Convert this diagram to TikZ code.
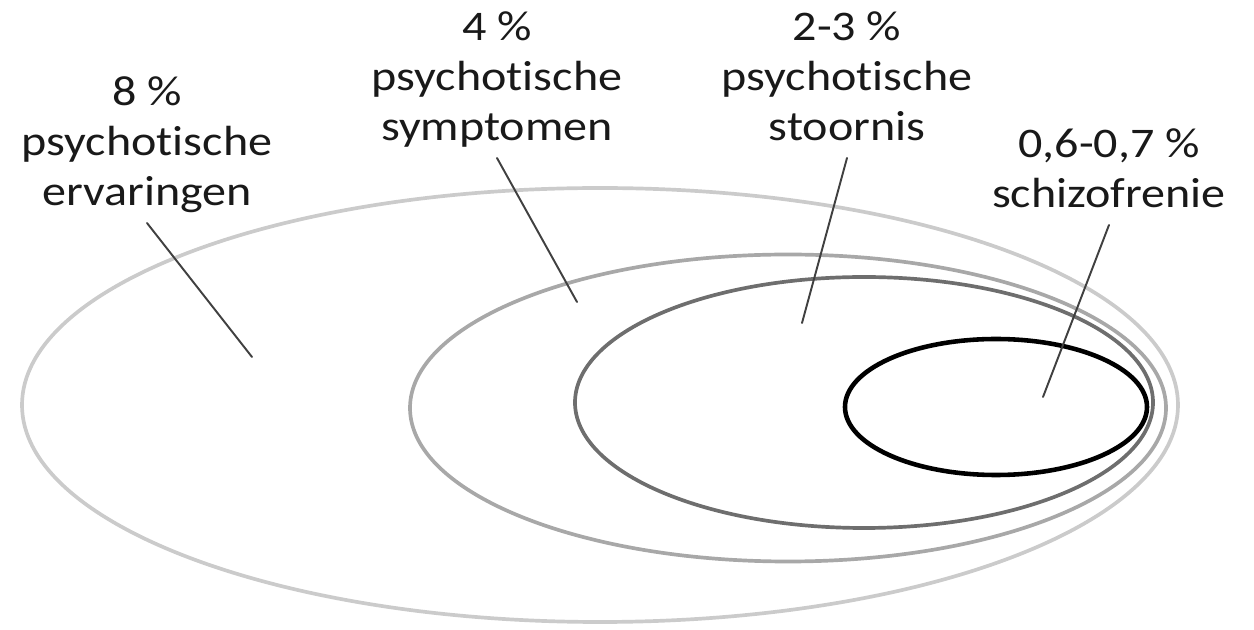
\documentclass[tikz,border=0pt]{standalone}
\usepackage{fontspec}
\setmainfont{Carlito}[FakeStretch=1.14, Ligatures=NoCommon]
\usepackage{xcolor}
\usepackage{tikz}
\usetikzlibrary{positioning,calc}

\begin{document}
\begin{tikzpicture}[
    x=0.2mm,
    y=0.2mm,
    font=\fontsize{24}{28.45}\selectfont,
    ring/.style={line width=2.1pt},
    leader/.style={line width=1.1pt, draw=leadGray, line cap=round},
    tag/.style={align=center, anchor=south, inner sep=1pt, text=black!90, execute at end node=\strut}
]

% Picture coordinate:
% one unit is one pixel of the 1254 x 630 frame, y counted from the bottom.

\definecolor{ringA}{HTML}{CBCBCB}
\definecolor{ringB}{HTML}{A8A8A8}
\definecolor{ringC}{HTML}{6E6E6E}
\definecolor{ringD}{HTML}{000000}
\definecolor{leadGray}{HTML}{404040}

\useasboundingbox (0,0) rectangle (1254,630);

% Nested rings, outer to inner
\draw[ring, ringA] (600,225) ellipse [x radius=578, y radius=217];
\draw[ring, ringB] (788,222) ellipse [x radius=378, y radius=153.5];
\draw[ring, ringC] (864,227.5) ellipse [x radius=289, y radius=125.5];
\draw[ring, ringD, line width=2.6pt] (996,223) ellipse [x radius=151, y radius=68];

% Labels
\node[tag] (ervaringen) at (147,407) {8 \%\\psychotische\\ervaringen};
\node[tag] (symptomen) at (497,472) {4 \%\\psychotische\\symptomen};
\node[tag] (stoornis) at (847,472) {2-3 \%\\psychotische\\stoornis};
\node[tag] (schizofrenie) at (1109,405) {0,6-0,7 \%\\schizofrenie};

% Leader ends inside the rings
\coordinate (ervaringenEnd) at (252,273);
\coordinate (symptomenEnd) at (577,328);
\coordinate (stoornisEnd) at (802,307);
\coordinate (schizofrenieEnd) at (1043,233);

\draw[leader] (ervaringen.south) -- (ervaringenEnd);
\draw[leader] (symptomen.south) -- (symptomenEnd);
\draw[leader] (stoornis.south) -- (stoornisEnd);
\draw[leader] (schizofrenie.south) -- (schizofrenieEnd);

\end{tikzpicture}
\end{document}
